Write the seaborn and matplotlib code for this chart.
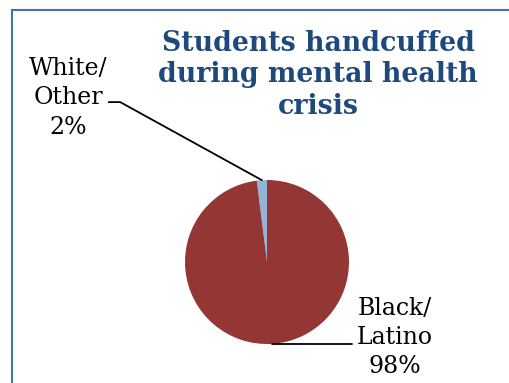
import numpy as np
import matplotlib
matplotlib.use("Agg")
import matplotlib.pyplot as plt
import matplotlib.patches as mpatches
import seaborn as sns

# ── data ─────────────────────────────────────────────────────────────────────
GROUPS = ["White/\nOther", "Black/\nLatino"]
SHARES = [2, 98]
COLORS = ["#95b3d7", "#943634"]
TITLE = "Students handcuffed\nduring mental health\ncrisis"

sns.set_style("white")
plt.rcParams["font.family"] = ["DejaVu Serif"]

W, H = 509, 383
fig = plt.figure(figsize=(W / 100, H / 100), dpi=100)

# pie placed by pixel centre / radius
cx, cy, r = 267, 262, 82
ax = fig.add_axes([(cx - r) / W, (H - cy - r) / H, 2 * r / W, 2 * r / H])
wedges, _ = ax.pie(SHARES, colors=COLORS, startangle=90, counterclock=True,
                   radius=1, wedgeprops=dict(linewidth=0))
ax.set_xlim(-1, 1)
ax.set_ylim(-1, 1)
ax.axis("off")


def mid_point(w, rr=1.0):
    a = np.deg2rad((w.theta1 + w.theta2) / 2)
    return rr * np.cos(a), rr * np.sin(a)


lab = [f"{g}\n{s}%" for g, s in zip(GROUPS, SHARES)]

# White/Other label with leader line (stub + diagonal)
px, py = mid_point(wedges[0], 1.0)
ax.plot([-1.93, -1.79, px], [1.95, 1.95, py], color="black", lw=1.3,
        clip_on=False)
ax.text(-2.42, 2.0, lab[0], ha="center", va="center", fontsize=17,
        linespacing=1.35, color="black", clip_on=False)

# Black/Latino label with leader line
px, py = mid_point(wedges[1], 1.0)
ax.plot([px, 1.04], [py, py], color="black", lw=1.3, clip_on=False)
ax.text(1.56, -0.92, lab[1], ha="center", va="center", fontsize=17,
        linespacing=1.35, color="black", clip_on=False)

# title
fig.text(318 / W, 1 - 75 / H, TITLE, ha="center", va="center",
         fontsize=19.3, fontweight="bold", color="#1f497d", linespacing=1.2)

# chart-area frame (runs off the right and bottom edges)
frame = mpatches.Rectangle((12 / W, -0.1), 1.2, 1 - 10 / H + 0.1,
                           transform=fig.transFigure, fill=False,
                           edgecolor="#4a72a6", linewidth=1.5)
fig.patches.append(frame)

fig.savefig("out.png", dpi=100)
